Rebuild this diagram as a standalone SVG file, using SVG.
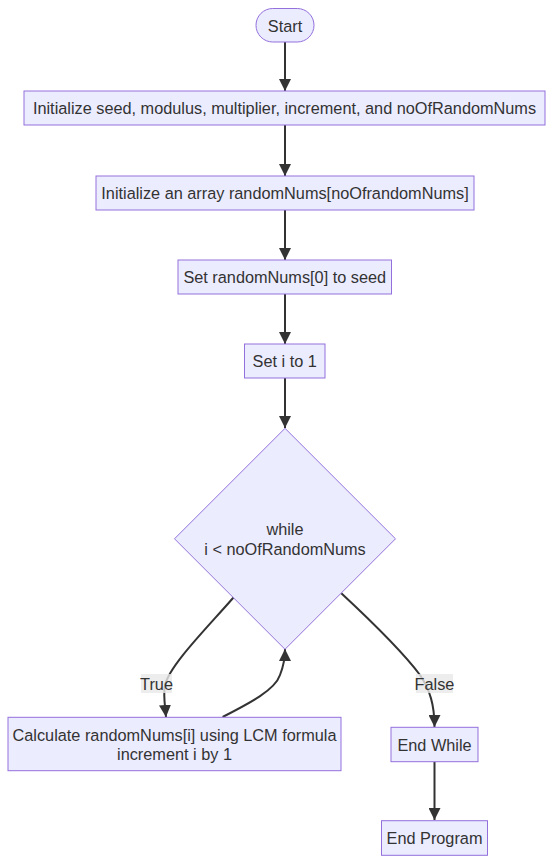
<svg xmlns="http://www.w3.org/2000/svg" width="553" height="863" viewBox="0 0 553 863">
<style>
.node rect, .node polygon { fill: #ECECFF; stroke: #9370DB; stroke-width: 1; }
text { font-family: "Liberation Sans", Arial, sans-serif; font-size: 16.3px; fill: #333333; text-anchor: middle; dominant-baseline: central; }
.edge { fill: none; stroke: #333333; stroke-width: 2; }
.lbl { fill: #e8e8e8; fill-opacity: 0.8; }
</style>
<defs>
<marker id="arrow" viewBox="0 0 10 10" refX="10" refY="5" markerUnits="userSpaceOnUse" markerWidth="12" markerHeight="12" orient="auto">
<path d="M0,0 L10,5 L0,10 z" fill="#333333"/>
</marker>
</defs>
<rect width="553" height="863" fill="#ffffff"/>
<g id="connectors">
<path class="edge" d="M285,42 L285,91" marker-end="url(#arrow)"/>
<path class="edge" d="M285,125 L285,176" marker-end="url(#arrow)"/>
<path class="edge" d="M285,210 L285,260" marker-end="url(#arrow)"/>
<path class="edge" d="M285,294 L285,344" marker-end="url(#arrow)"/>
<path class="edge" d="M285,378 L285,428" marker-end="url(#arrow)"/>
<path class="edge" d="M233.5,597.5 C205,630 170,665 165,685 C163,695 165,705 166,717" marker-end="url(#arrow)"/>
<path class="edge" d="M222.6,717 C250,703 275,690 280,675 C284,665 285,658 285,649" marker-end="url(#arrow)"/>
<path class="edge" d="M341.3,593.3 C370,620 405,655 420,675 C430,690 434.5,705 434.5,727" marker-end="url(#arrow)"/>
<path class="edge" d="M434.5,762 L434.5,820" marker-end="url(#arrow)"/>
<rect class="lbl" x="141" y="674" width="31" height="19"/>
<text x="156.5" y="683.5">True</text>
<rect class="lbl" x="416" y="674" width="37" height="19"/>
<text x="434.5" y="683.5">False</text>
</g>
<g id="start" class="node">
<rect x="256" y="8.5" width="58" height="33.5" rx="16.75" ry="16.75"/>
<text x="285" y="25.5">Start</text>
</g>
<g id="init" class="node">
<rect x="24" y="91" width="521" height="34"/>
<text x="284.5" y="108">Initialize seed, modulus, multiplier, increment, and noOfRandomNums</text>
</g>
<g id="initArray" class="node">
<rect x="96" y="176" width="378" height="34"/>
<text x="285" y="193">Initialize an array randomNums[noOfrandomNums]</text>
</g>
<g id="setSeed" class="node">
<rect x="178" y="260" width="213.5" height="34"/>
<text x="284.75" y="277">Set randomNums[0] to seed</text>
</g>
<g id="setI" class="node">
<rect x="244.5" y="344" width="80.5" height="34"/>
<text x="284.75" y="361">Set i to 1</text>
</g>
<g id="while" class="node">
<polygon points="285,428.3 395.5,538.8 285,649.3 174.5,538.8"/>
<text x="285" y="529">while</text>
<text x="285" y="548.5">i &lt; noOfRandomNums</text>
</g>
<g id="calc" class="node">
<rect x="8" y="717.3" width="333" height="53.4"/>
<text x="174.5" y="734.5">Calculate randomNums[i] using LCM formula</text>
<text x="174.5" y="753.5">increment i by 1</text>
</g>
<g id="endWhile" class="node">
<rect x="391" y="727.3" width="87" height="34.4"/>
<text x="434.5" y="744.5">End While</text>
</g>
<g id="endProgram" class="node">
<rect x="381.5" y="820.7" width="106" height="34.6"/>
<text x="434.5" y="838">End Program</text>
</g>
</svg>
